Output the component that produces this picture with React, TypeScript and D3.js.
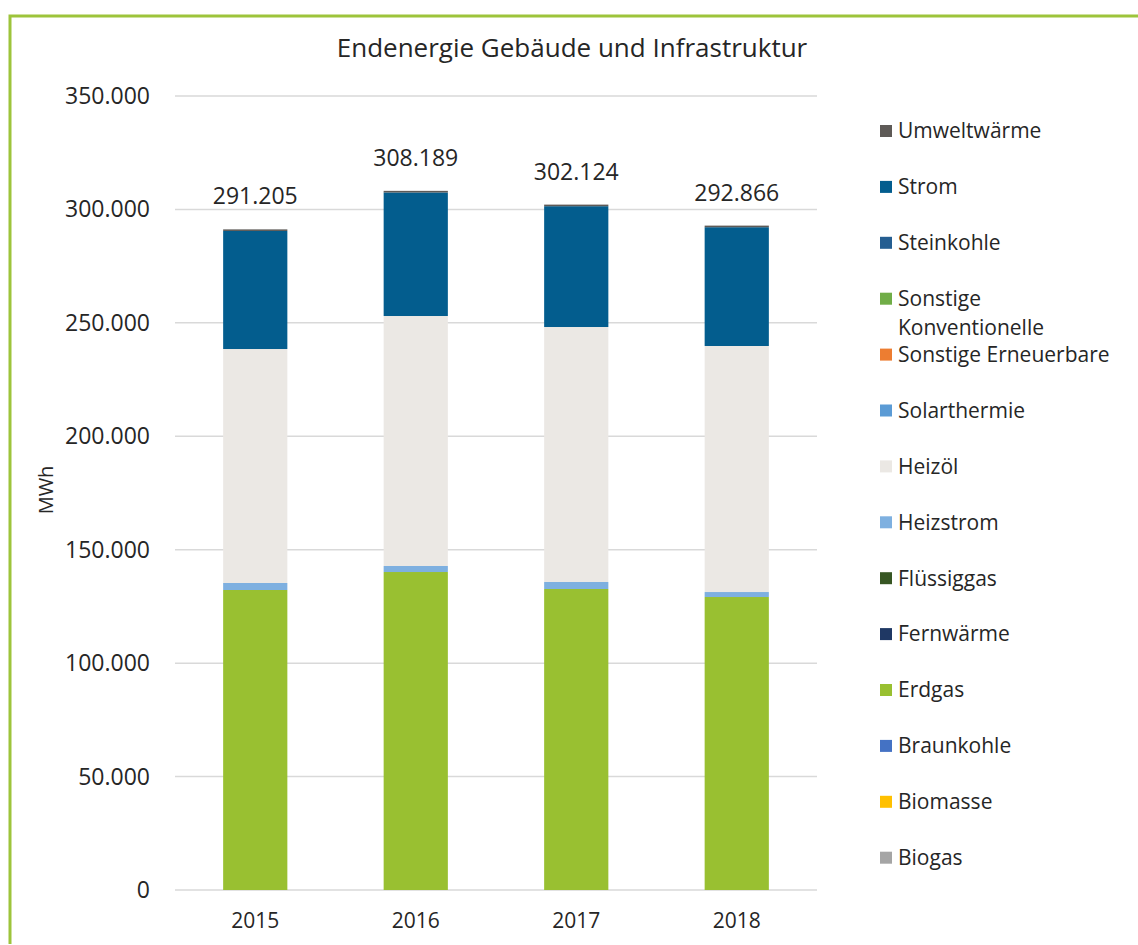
import React, { useRef, useEffect } from 'react'
import * as d3 from 'd3'

const years = ['2015', '2016', '2017', '2018']

// stack order, bottom to top
const carriers = [
  'Biogas', 'Biomasse', 'Braunkohle', 'Erdgas', 'Fernwärme', 'Flüssiggas', 'Heizstrom',
  'Heizöl', 'Solarthermie', 'Sonstige Erneuerbare', 'Sonstige Konventionelle', 'Steinkohle',
  'Strom', 'Umweltwärme',
]
const colors = [
  '#a5a5a5', '#ffc000', '#4472c4', '#99c031', '#1f3864', '#375623', '#7eb0e0',
  '#ebe8e4', '#5b9bd5', '#ed7d31', '#70ad47', '#255e91', '#035d8e', '#5e5a57',
]

const biogas = [0, 0, 0, 0]
const biomasse = [0, 0, 0, 0]
const braunkohle = [0, 0, 0, 0]
const erdgas = [132240, 140170, 132680, 129150]
const fernwaerme = [0, 0, 0, 0]
const fluessiggas = [0, 0, 0, 0]
const heizstrom = [3090, 2650, 3090, 2200]
const heizoel = [103140, 110200, 112400, 108450]
const solarthermie = [0, 0, 0, 0]
const sonstErneuerbare = [0, 0, 0, 0]
const sonstKonventionelle = [0, 0, 0, 0]
const steinkohle = [0, 0, 0, 0]
const strom = [52035, 54469, 53254, 52366]
const umweltwaerme = [700, 700, 700, 700]

const series = [
  biogas, biomasse, braunkohle, erdgas, fernwaerme, fluessiggas, heizstrom,
  heizoel, solarthermie, sonstErneuerbare, sonstKonventionelle, steinkohle, strom, umweltwaerme,
]

const yTicks = [0, 50000, 100000, 150000, 200000, 250000, 300000, 350000]

const fmt = (v: number) => d3.format(',')(Math.round(v)).replace(/,/g, '.')

const App = () => {
  const svgRef = useRef<SVGSVGElement>(null)

  useEffect(() => {
    const svg = d3.select(svgRef.current)
    svg.selectAll('*').remove()
    const font = 'Open Sans, sans-serif'
    const textColor = '#262626'

    const left = 175
    const right = 817
    const top = 96
    const bottom = 890

    const rows = years.map((y, i) => {
      const r: any = { year: y }
      carriers.forEach((c, j) => { r[c] = series[j][i] })
      return r
    })

    const x = d3.scaleBand().domain(years).range([left, right]).paddingInner(0.6).paddingOuter(0.3)
    const y = d3.scaleLinear().domain([0, 350000]).range([bottom, top])

    // frame
    svg.append('path')
      .attr('d', `M10,944 L10,16 L1138,16`)
      .attr('fill', 'none')
      .attr('stroke', '#9dc43b')
      .attr('stroke-width', 3)

    // title
    svg.append('text')
      .attr('x', 572)
      .attr('y', 57)
      .attr('text-anchor', 'middle')
      .style('font-family', font)
      .style('font-size', '26px')
      .style('fill', textColor)
      .text('Endenergie Gebäude und Infrastruktur')

    // grid + y labels
    svg.append('g')
      .selectAll('line')
      .data(yTicks)
      .join('line')
      .attr('x1', left)
      .attr('x2', right)
      .attr('y1', d => y(d))
      .attr('y2', d => y(d))
      .attr('stroke', '#d9d9d9')
      .attr('stroke-width', 1.5)

    svg.append('g')
      .selectAll('text')
      .data(yTicks)
      .join('text')
      .attr('x', 150)
      .attr('y', d => y(d))
      .attr('dy', '0.35em')
      .attr('text-anchor', 'end')
      .style('font-family', font)
      .style('font-size', '23px')
      .style('fill', textColor)
      .text(d => fmt(d))

    svg.append('text')
      .attr('transform', 'rotate(-90)')
      .attr('x', -490)
      .attr('y', 53)
      .attr('text-anchor', 'middle')
      .style('font-family', font)
      .style('font-size', '20px')
      .style('fill', textColor)
      .text('MWh')

    // bars
    const stacked = d3.stack().keys(carriers)(rows)
    svg.append('g')
      .selectAll('g')
      .data(stacked)
      .join('g')
      .attr('fill', (d, i) => colors[i])
      .selectAll('rect')
      .data(d => d)
      .join('rect')
      .attr('x', d => x(d.data.year as string)!)
      .attr('width', x.bandwidth())
      .attr('y', d => y(d[1]))
      .attr('height', d => y(d[0]) - y(d[1]))

    // totals
    svg.append('g')
      .selectAll('text')
      .data(rows)
      .join('text')
      .attr('x', d => x(d.year)! + x.bandwidth() / 2)
      .attr('y', d => y(d3.sum(carriers, c => d[c])) - 25)
      .attr('text-anchor', 'middle')
      .style('font-family', font)
      .style('font-size', '23px')
      .style('fill', textColor)
      .text(d => fmt(d3.sum(carriers, c => d[c])))

    // x labels
    svg.append('g')
      .selectAll('text')
      .data(years)
      .join('text')
      .attr('x', d => x(d)! + x.bandwidth() / 2)
      .attr('y', 928)
      .attr('text-anchor', 'middle')
      .style('font-family', font)
      .style('font-size', '21px')
      .style('fill', textColor)
      .text(d => d)

    // legend (reverse of stack order)
    const legendItems = carriers.map((c, i) => ({ name: c, color: colors[i] })).reverse()
    const lg = svg.append('g')
      .selectAll('g')
      .data(legendItems)
      .join('g')
      .attr('transform', (d, i) => `translate(880,${131 + i * 55.9})`)

    lg.append('rect')
      .attr('x', 0)
      .attr('y', -6)
      .attr('width', 12)
      .attr('height', 12)
      .attr('fill', d => d.color)

    lg.append('text')
      .attr('x', 18)
      .attr('y', 0)
      .attr('dy', '0.35em')
      .style('font-family', font)
      .style('font-size', '21px')
      .style('fill', textColor)
      .each(function (d) {
        const t = d3.select(this)
        if (d.name === 'Sonstige Konventionelle') {
          t.append('tspan').attr('x', 18).text('Sonstige')
          t.append('tspan').attr('x', 18).attr('dy', '1.38em').text('Konventionelle')
        } else {
          t.text(d.name)
        }
      })
  }, [])

  return (
    <svg
      ref={svgRef}
      width={1138}
      height={945}
      style={{ position: 'absolute', left: 0, top: 0, background: '#fff' }}
    />
  )
}

export default App
